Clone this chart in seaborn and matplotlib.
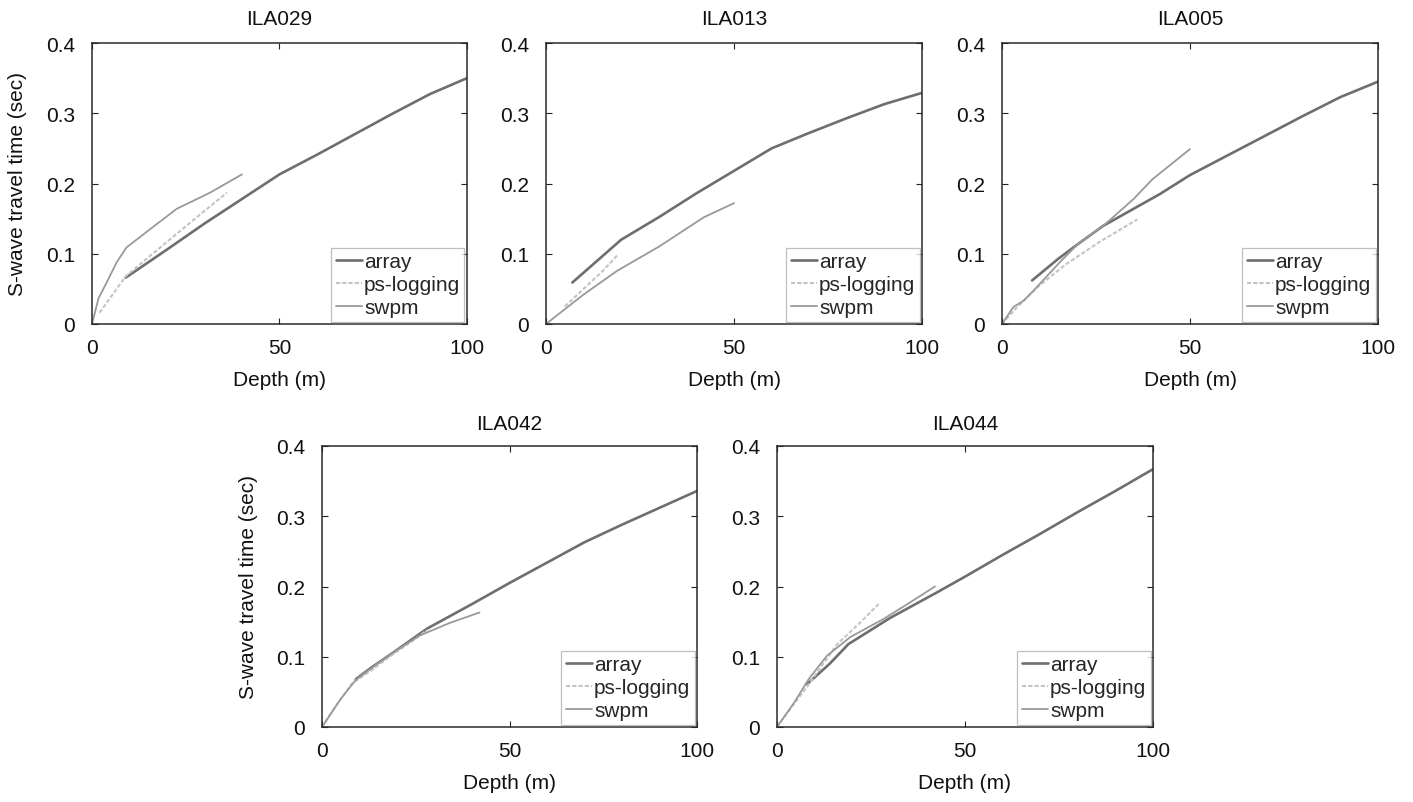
import matplotlib
matplotlib.use("Agg")
import matplotlib.pyplot as plt
import seaborn as sns
import pandas as pd

sns.set_theme(style="white")
plt.rcParams['font.family'] = ['Liberation Sans', 'DejaVu Sans']

sites = ["ILA029", "ILA013", "ILA005", "ILA042", "ILA044"]

# ILA029
ila029_array_d = [9, 20, 30, 42, 50, 60, 70, 80, 90, 100]
ila029_array_t = [0.066, 0.106, 0.143, 0.185, 0.213, 0.241, 0.27, 0.299, 0.327, 0.350]
ila029_ps_d = [2, 9, 20, 30, 36]
ila029_ps_t = [0.016, 0.068, 0.117, 0.161, 0.187]
ila029_swpm_d = [0, 1.7, 3.9, 6.6, 9.2, 15.5, 22.6, 31.5, 40]
ila029_swpm_t = [0.0, 0.036, 0.059, 0.088, 0.109, 0.135, 0.164, 0.187, 0.213]

# ILA013
ila013_array_d = [7, 20, 30, 40, 50, 60, 70, 80, 90, 100]
ila013_array_t = [0.059, 0.12, 0.152, 0.186, 0.218, 0.25, 0.272, 0.293, 0.313, 0.329]
ila013_ps_d = [5, 10, 15, 19]
ila013_ps_t = [0.025, 0.05, 0.075, 0.098]
ila013_swpm_d = [0, 10, 19, 30, 42, 50]
ila013_swpm_t = [0.0, 0.042, 0.076, 0.11, 0.152, 0.172]

# ILA005
ila005_array_d = [8, 15, 20, 27, 42, 50, 60, 70, 80, 90, 100]
ila005_array_t = [0.062, 0.093, 0.113, 0.140, 0.185, 0.212, 0.24, 0.268, 0.296, 0.323, 0.345]
ila005_ps_d = [0, 4, 10, 17, 26, 36]
ila005_ps_t = [0.0, 0.024, 0.055, 0.085, 0.117, 0.149]
ila005_swpm_d = [0, 3, 5.7, 8.3, 15.4, 20, 27, 35, 40, 50]
ila005_swpm_t = [0.0, 0.024, 0.033, 0.047, 0.088, 0.113, 0.140, 0.178, 0.206, 0.249]

# ILA042
ila042_array_d = [9, 13, 19, 28, 40, 50, 60, 70, 80, 90, 100]
ila042_array_t = [0.068, 0.084, 0.106, 0.14, 0.175, 0.205, 0.234, 0.263, 0.288, 0.312, 0.336]
ila042_ps_d = [0, 3, 8, 13, 18, 24, 28]
ila042_ps_t = [0.0, 0.025, 0.062, 0.08, 0.1, 0.122, 0.138]
ila042_swpm_d = [0, 5, 9, 14, 19, 26, 34, 42]
ila042_swpm_t = [0.0, 0.04, 0.067, 0.087, 0.106, 0.13, 0.148, 0.163]

# ILA044
ila044_array_d = [8, 14, 19, 30, 42, 50, 60, 70, 80, 90, 100]
ila044_array_t = [0.061, 0.09, 0.118, 0.155, 0.19, 0.214, 0.245, 0.275, 0.306, 0.336, 0.367]
ila044_ps_d = [0, 1.9, 8.2, 16, 22, 27]
ila044_ps_t = [0.0, 0.014, 0.059, 0.118, 0.148, 0.175]
ila044_swpm_d = [0, 4.6, 8.4, 13.3, 19.5, 28.4, 35, 42]
ila044_swpm_t = [0.0, 0.035, 0.068, 0.1015, 0.128, 0.154, 0.176, 0.2]

data = {
    "ILA029": [(ila029_array_d, ila029_array_t), (ila029_ps_d, ila029_ps_t), (ila029_swpm_d, ila029_swpm_t)],
    "ILA013": [(ila013_array_d, ila013_array_t), (ila013_ps_d, ila013_ps_t), (ila013_swpm_d, ila013_swpm_t)],
    "ILA005": [(ila005_array_d, ila005_array_t), (ila005_ps_d, ila005_ps_t), (ila005_swpm_d, ila005_swpm_t)],
    "ILA042": [(ila042_array_d, ila042_array_t), (ila042_ps_d, ila042_ps_t), (ila042_swpm_d, ila042_swpm_t)],
    "ILA044": [(ila044_array_d, ila044_array_t), (ila044_ps_d, ila044_ps_t), (ila044_swpm_d, ila044_swpm_t)],
}

series_names = ["array", "ps-logging", "swpm"]
series_colors = ["#6e6e6e", "#c4c4c4", "#999999"]
series_styles = ["-", (0, (2.0, 1.0)), "-"]
series_widths = [1.9, 1.5, 1.3]

x_ticks = [0, 50, 100]
y_ticks = [0, 0.1, 0.2, 0.3, 0.4]
y_tick_labels = ["0", "0.1", "0.2", "0.3", "0.4"]

W, H = 1413, 803
fig = plt.figure(figsize=(W / 100, H / 100), dpi=100)

# axes boxes in pixels: left, top, right, bottom
boxes = [
    (92, 44, 467, 325),
    (546, 44, 922, 325),
    (1002, 44, 1378, 325),
    (322, 447, 697, 728),
    (777, 447, 1153, 728),
]
FS = 15

for i, (site, box) in enumerate(zip(sites, boxes)):
    l, t, r, b = box
    ax = fig.add_axes([l / W, 1 - b / H, (r - l) / W, (b - t) / H])
    for k, name in enumerate(series_names):
        d, tt = data[site][k]
        df = pd.DataFrame({"Depth": d, "Time": tt})
        sns.lineplot(data=df, x="Depth", y="Time", ax=ax, sort=False, estimator=None,
                     color=series_colors[k], linestyle=series_styles[k],
                     linewidth=series_widths[k], label=name)
    ax.set_xlim(0, 100)
    ax.set_ylim(0, 0.4)
    ax.set_xticks(x_ticks)
    ax.set_xticklabels([str(v) for v in x_ticks])
    ax.set_yticks(y_ticks)
    ax.set_yticklabels(y_tick_labels)
    ax.tick_params(direction="in", length=4, width=0.8, top=True, right=True,
                   bottom=True, left=True, labelsize=FS, colors="#222222")
    ax.tick_params(axis="x", pad=10)
    ax.tick_params(axis="y", pad=12)
    for lab in ax.get_xticklabels() + ax.get_yticklabels():
        lab.set_color("#111111")
    for sp in ax.spines.values():
        sp.set_color("#2a2a2a")
        sp.set_linewidth(1.1)
    ax.set_title(site, fontsize=FS, pad=14 if i < 3 else 12, color="#111111")
    ax.set_xlabel("Depth (m)", fontsize=FS, color="#111111")
    ax.xaxis.set_label_coords(0.5, -0.165)
    if i in (0, 3):
        ax.set_ylabel("S-wave travel time (sec)", fontsize=FS, color="#111111")
        ax.yaxis.set_label_coords(-0.172, 0.5)
    else:
        ax.set_ylabel("")
    leg = ax.legend(loc="lower right", fontsize=FS, frameon=True, fancybox=False,
                    handlelength=1.25, handletextpad=0.12, borderpad=0.2,
                    labelspacing=0.2, borderaxespad=0.12)
    leg.get_frame().set_edgecolor("#b0b0b0")
    leg.get_frame().set_linewidth(0.9)

fig.savefig("out.png", dpi=100)
